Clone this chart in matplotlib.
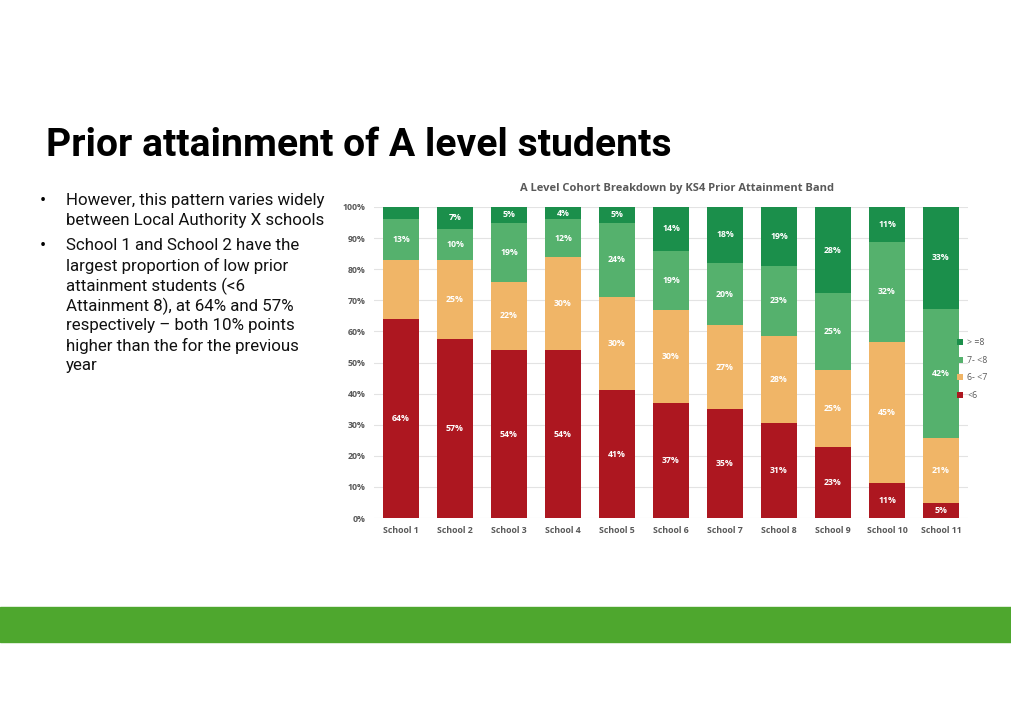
import numpy as np
import matplotlib
matplotlib.use("Agg")
import matplotlib.pyplot as plt
from matplotlib.patches import Rectangle

# data (percent of cohort)
schools = [f"School {i}" for i in range(1, 12)]
band_names = ["<6", "6- <7", "7- <8", "> =8"]
below_6 = [64, 57, 54, 54, 41, 37, 35, 31, 23, 11, 5]
six_to_7 = [19, 25, 22, 30, 30, 30, 27, 28, 25, 45, 21]
seven_to_8 = [13, 10, 19, 12, 24, 19, 20, 23, 25, 32, 42]
eight_plus = [4, 7, 5, 4, 5, 14, 18, 19, 28, 11, 33]
# which segment labels the source chart actually shows
hidden = {(0, 1), (0, 3)}  # (school index, band index)
band_colors = ["#AD1720", "#F0B567", "#55B16D", "#1B8F4B"]

slide_title = "Prior attainment of A level students"
chart_title = "A Level Cohort Breakdown by KS4 Prior Attainment Band"
bullets = [
    ["However, this pattern varies widely", "between Local Authority X schools"],
    ["School 1 and School 2 have the", "largest proportion of low prior",
     "attainment students (<6", "Attainment 8), at 64% and 57%",
     "respectively \u2013 both 10% points", "higher than the for the previous", "year"],
]

W, H = 1012, 714
fig = plt.figure(figsize=(W / 100, H / 100), dpi=100)
fig.patch.set_facecolor("white")

def fy(px):
    return 1 - px / H

# slide title and bullets
fig.text(46 / W, fy(146), slide_title, fontsize=28.2, fontweight="bold",
         family="Roboto", color="black", va="center", ha="left")
y = 201
for para in bullets:
    for j, line in enumerate(para):
        if j == 0:
            fig.text(40 / W, fy(y), "\u2022", fontsize=13, family="Roboto",
                     va="center", ha="left")
        fig.text(66 / W, fy(y), line, fontsize=12.2, family="Roboto",
                 color="#111111", va="center", ha="left")
        y += 20
    y += 5

# green band along the bottom
fig.patches.append(Rectangle((0, fy(642)), 1, (642 - 607) / H,
                             transform=fig.transFigure, color="#4EA72E",
                             zorder=0))

# 100% stacked bar chart
ax = fig.add_axes([374 / W, fy(518), 594 / W, (518 - 207) / H])
series = np.array([below_6, six_to_7, seven_to_8, eight_plus], dtype=float)
shares = series / series.sum(axis=0) * 100
x = np.arange(len(schools))
bottom = np.zeros(len(schools))
handles = []
for b, col in enumerate(band_colors):
    vals = shares[b]
    bars = ax.bar(x, vals, 0.67, bottom=bottom, color=col, linewidth=0,
                  zorder=3)
    handles.append(bars)
    for i, v in enumerate(vals):
        if (i, b) in hidden:
            continue
        ax.text(x[i], bottom[i] + v / 2, f"{int(series[b, i])}%", ha="center",
                va="center", color="white", fontsize=6.3, fontweight="bold",
                family="Open Sans", zorder=4)
    bottom += vals

ax.set_xlim(-0.5, len(schools) - 0.5)
ax.set_ylim(0, 100)
ax.set_yticks(np.arange(0, 101, 10))
ax.set_yticklabels([f"{t}%" for t in range(0, 101, 10)])
ax.set_xticks(x)
ax.set_xticklabels(schools)
for lbl in ax.get_xticklabels() + ax.get_yticklabels():
    lbl.set_fontsize(6.3)
    lbl.set_fontweight("bold")
    lbl.set_family("Open Sans")
    lbl.set_color("#595959")
ax.tick_params(length=0, pad=6)
ax.grid(axis="y", color="#E3E3E3", linewidth=0.8, zorder=0)
ax.set_axisbelow(True)
for s in ax.spines.values():
    s.set_visible(False)

fig.text(677 / W, fy(189), chart_title, fontsize=8, fontweight="bold",
         family="Open Sans", color="#595959", ha="center", va="center")

leg = fig.legend(handles[::-1], band_names[::-1], loc="center left",
                 bbox_to_anchor=(949 / W, fy(369)), frameon=False,
                 fontsize=6.3, handlelength=0.7, handleheight=0.7,
                 handletextpad=0.5, labelspacing=1.0)
for t in leg.get_texts():
    t.set_color("#595959")
    t.set_family("Open Sans")

fig.savefig("out.png", dpi=100)
